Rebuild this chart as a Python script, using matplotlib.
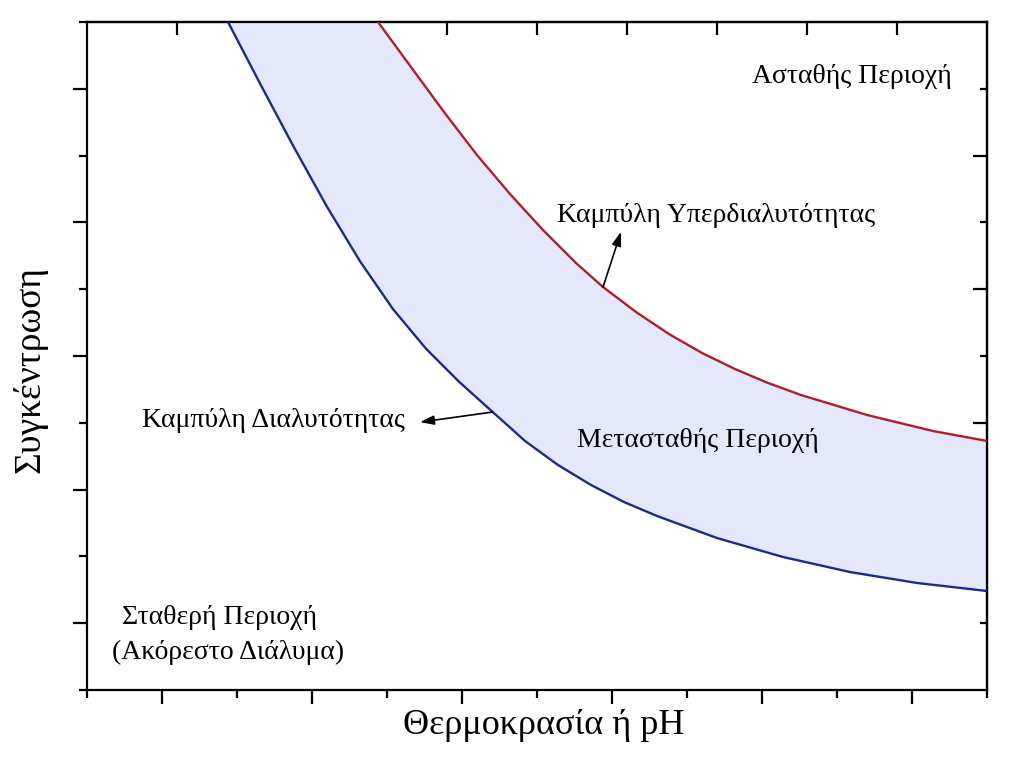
import matplotlib
matplotlib.use("Agg")
import matplotlib.pyplot as plt
import numpy as np

plt.rcParams['font.family'] = ['Liberation Serif', 'DejaVu Serif']

# Solubility curve (blue)
sol_x = [1.880, 2.320, 2.760, 3.200, 3.640, 4.080, 4.520, 4.960, 5.400, 5.840,
         6.280, 6.720, 7.160, 7.600, 8.400, 9.280, 10.173, 11.067, 12.0]
sol_y = [10.0, 9.051, 8.123, 7.234, 6.418, 5.702, 5.109, 4.615, 4.171, 3.728,
         3.368, 3.069, 2.814, 2.605, 2.275, 1.991, 1.766, 1.602, 1.482]

# Supersolubility curve (red)
sup_x = [3.880, 4.320, 4.760, 5.200, 5.640, 6.080, 6.520, 6.880, 7.320, 7.760,
         8.200, 8.640, 9.080, 9.520, 10.400, 11.280, 12.0]
sup_y = [10.0, 9.326, 8.653, 8.009, 7.425, 6.886, 6.392, 6.033, 5.659, 5.329,
         5.045, 4.805, 4.596, 4.416, 4.117, 3.877, 3.728]

xlabel = "Θερμοκρασία ή pH"
ylabel = "Συγκέντρωση"

fig = plt.figure(figsize=(10.24, 7.61), dpi=100)
ax = fig.add_axes([87/1024, 1-690/761, 900/1024, 668/761])
ax.set_xlim(0, 12)
ax.set_ylim(0, 10)

# Metastable zone fill
poly_x = list(sol_x) + list(sup_x[::-1])
poly_y = list(sol_y) + list(sup_y[::-1])
ax.fill(poly_x, poly_y, color='#e5e7fa', lw=0, zorder=1)

ax.plot(sol_x, sol_y, color='#1c2a8c', lw=1.7, zorder=3,
        solid_joinstyle='round')
ax.plot(sup_x, sup_y, color='#b01f28', lw=1.7, zorder=3,
        solid_joinstyle='round')

fs = 20
ax.text(10.2, 9.18, "Ασταθής Περιοχή", fontsize=fs, ha='center', va='center')
ax.text(8.39, 7.11, "Καμπύλη Υπερδιαλυτότητας", fontsize=fs, ha='center', va='center')
ax.text(2.48, 4.04, "Καμπύλη Διαλυτότητας", fontsize=fs, ha='center', va='center')
ax.text(8.15, 3.74, "Μετασταθής Περιοχή", fontsize=fs, ha='center', va='center')
ax.text(1.77, 1.09, "Σταθερή Περιοχή", fontsize=fs, ha='center', va='center')
ax.text(1.88, 0.57, "(Ακόρεστο Διάλυμα)", fontsize=fs, ha='center', va='center')

arrow = dict(arrowstyle='-|>,head_length=0.6,head_width=0.2', color='black',
             lw=1.2, mutation_scale=14, shrinkA=0, shrinkB=0)
ax.annotate("", xy=(4.44, 4.01), xytext=(5.40, 4.16), arrowprops=arrow, zorder=4)
ax.annotate("", xy=(7.12, 6.86), xytext=(6.88, 6.03), arrowprops=arrow, zorder=4)

for s in ax.spines.values():
    s.set_linewidth(1.6)

# bottom / left ticks (outward)
ax.set_xticks([1, 3, 5, 7, 9, 11])
ax.set_xticks(np.arange(0, 13, 2), minor=True)
ax.set_yticks([1, 3, 5, 7, 9])
ax.set_yticks(np.arange(0, 11, 2), minor=True)
ax.tick_params(which='major', direction='out', length=10, width=1.6,
               labelbottom=False, labelleft=False, top=False, right=False)
ax.tick_params(which='minor', direction='out', length=6, width=1.6,
               top=False, right=False)

# right ticks (inward)
sec_r = ax.secondary_yaxis('right')
sec_r.set_yticks([2, 4, 6, 8])
sec_r.set_yticks([1, 3, 5, 7, 9], minor=True)
sec_r.tick_params(which='major', direction='in', length=10, width=1.6, labelright=False)
sec_r.tick_params(which='minor', direction='in', length=5, width=1.6)
sec_r.spines['right'].set_linewidth(1.6)

# top ticks (inward)
sec_t = ax.secondary_xaxis('top')
sec_t.set_xticks(np.arange(1.2, 11.9, 1.2))
sec_t.tick_params(which='major', direction='in', length=9, width=1.6, labeltop=False)
sec_t.spines['top'].set_linewidth(1.6)

ax.set_xlabel(xlabel, fontsize=26)
ax.xaxis.set_label_coords(0.507, -0.028)
ax.xaxis.label.set_va('top')
ax.set_ylabel(ylabel, fontsize=27)
ax.yaxis.set_label_coords(-0.063, 0.48)
ax.yaxis.label.set_va('center')

fig.savefig("out.png", dpi=100, facecolor='white')
